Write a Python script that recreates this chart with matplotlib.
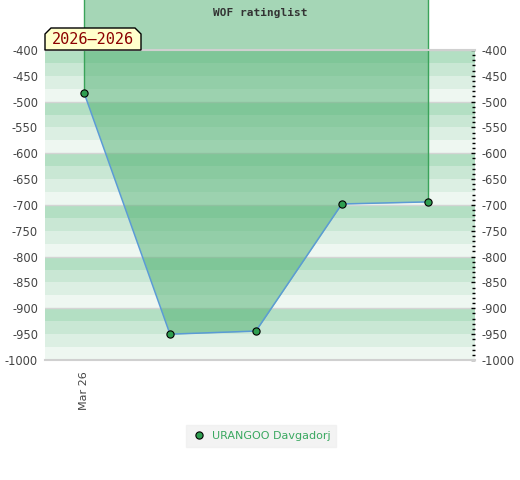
import matplotlib
matplotlib.use("Agg")
import matplotlib.pyplot as plt
from matplotlib.patches import Polygon
from matplotlib.ticker import MultipleLocator

# ---- data ----
player = "URANGOO Davgadorj"
title = "WOF ratinglist"
period_label = "2026\u20132026"
x_index = [0, 1, 2, 3, 4]
ratings = [-483, -950, -944, -698, -694]
tick_positions = [0]
tick_labels = ["Mar 26"]
y_min, y_max = -1000, -400

band_colors = ["#b3dfc3", "#c9e7d4", "#dcefe3", "#eef7f1"]

fig = plt.figure(figsize=(5.2, 4.8), dpi=100)
W, H = 520, 480
ax = fig.add_axes([45 / W, 1 - 360 / H, (475 - 45) / W, (360 - 50) / H])

# stripes
v = y_max
i = 0
while v > y_min:
    ax.axhspan(v - 25, v, color=band_colors[i % 4], lw=0, zorder=0)
    v -= 25
    i += 1

for g in range(y_min, y_max + 1, 100):
    ax.axhline(g, color="#d4d4d4", lw=1, zorder=0.5)

ax.set_xlim(-0.455, 4.55)
ax.set_ylim(y_min, y_max)

# fill up to top of figure
top_val = -250
ax.fill_between(x_index, ratings, top_val, color="#4caf6e", alpha=0.5,
                lw=0, clip_on=False, zorder=2)
ax.vlines([x_index[0], x_index[-1]], [ratings[0], ratings[-1]], top_val,
          color="#3aa35a", lw=1, clip_on=False, zorder=3)
ax.plot(x_index, ratings, color="#5b9bd5", lw=1.1, zorder=4)
ax.plot(x_index, ratings, ls="none", marker="o", ms=5.2, mfc="#2e9e50",
        mec="black", mew=0.8, zorder=5, label=player, clip_on=False)

for s in ["left", "right"]:
    ax.spines[s].set_visible(False)
for s in ["top", "bottom"]:
    ax.spines[s].set_color("#d0d0d0")
    ax.spines[s].set_linewidth(1.5)
    ax.spines[s].set_zorder(6)

ax.yaxis.set_major_locator(MultipleLocator(50))
ax.yaxis.set_minor_locator(MultipleLocator(10))
ax.tick_params(axis="y", which="both", left=False, right=True, labelleft=True,
               labelright=True, direction="in", colors="black", labelsize=8.3,
               pad=5)
ax.tick_params(axis="y", which="major", length=3, width=1)
ax.tick_params(axis="y", which="minor", length=2, width=1)
ax.yaxis.set_tick_params(labelcolor="#444444")
ax.set_yticks(range(y_min, y_max + 1, 50))
ax.set_yticklabels([str(t) for t in range(y_min, y_max + 1, 50)])

ax.set_xticks(tick_positions)
ax.set_xticklabels(tick_labels, rotation=90, fontsize=8, color="#444444")
ax.tick_params(axis="x", length=0, pad=8)

# title
fig.text(260 / W, 1 - 13 / H, title, ha="center", va="center",
         family="DejaVu Sans Mono", fontweight="bold", fontsize=8,
         color="#333333")

# period label box
pts = [(45, 50), (45, 34), (51, 28), (135, 28), (141, 34), (141, 50)]
poly = Polygon([(x / W, 1 - y / H) for x, y in pts], closed=True,
               transform=fig.transFigure, facecolor="#ffffcc",
               edgecolor="black", lw=1, zorder=10)
fig.patches.append(poly)
fig.text(93 / W, 1 - 40 / H, period_label, ha="center", va="center",
         family="DejaVu Sans Mono", fontsize=11, color="#8b0000", zorder=11)

leg = fig.legend(loc="center", bbox_to_anchor=(261 / W, 1 - 436 / H),
                 frameon=True, fontsize=8, handletextpad=0.4,
                 borderpad=0.55, handlelength=1.4, fancybox=False,
                 borderaxespad=0)
leg.get_frame().set_facecolor("#f0f0f0")
leg.get_frame().set_edgecolor("#f0f0f0")
for t in leg.get_texts():
    t.set_color("#3aa860")

fig.savefig("out.png", dpi=100)
